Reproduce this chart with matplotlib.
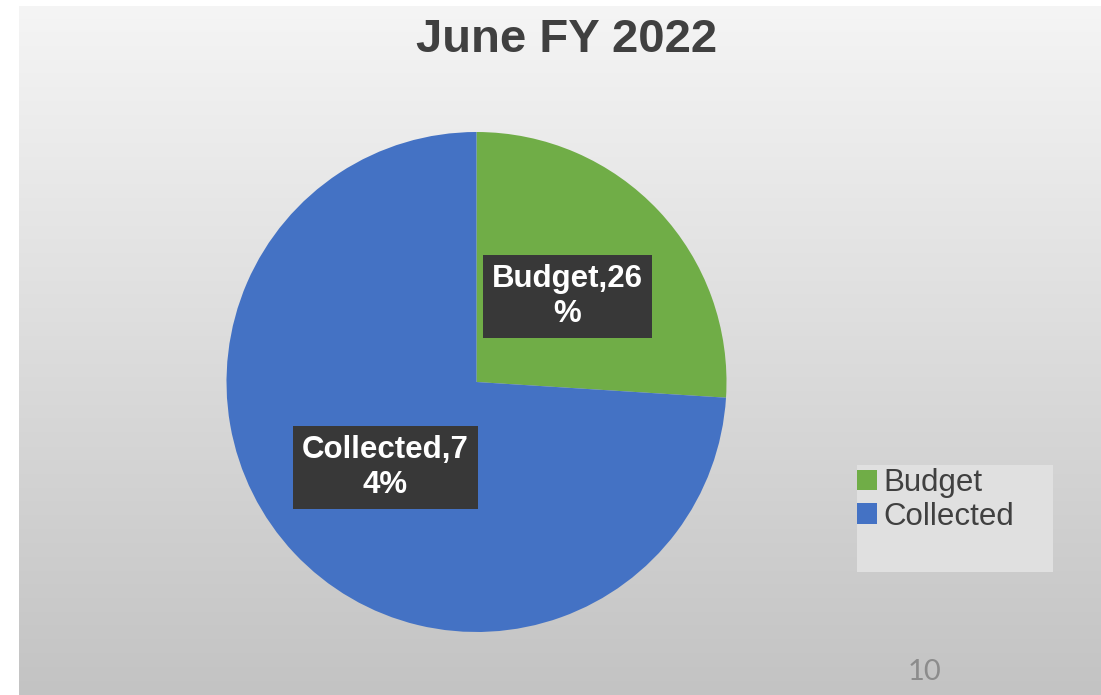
import numpy as np
import matplotlib.pyplot as plt
from matplotlib.patches import Patch, Rectangle

# Revenue split for the month
categories = ["Budget", "Collected"]
shares = [26, 74]
colors = ["#70AD47", "#4472C4"]
wrap_at = [9, 11]          # where the data labels break onto a second line

title = "June FY 2022"
page_no = "10"

W, H = 1101, 695
fig = plt.figure(figsize=(W / 100, H / 100), dpi=100)
fig.patch.set_facecolor("white")

# gray slide-style backdrop, light at the top and darker at the bottom
bg = fig.add_axes([19 / W, 0, 1 - 19 / W, (H - 6) / H])
grad = np.linspace(0, 1, 256)[:, None]
top, bottom = np.array([0.96, 0.96, 0.96]), np.array([0.765, 0.765, 0.765])
img = top + (bottom - top) * grad[:, :, None]
bg.imshow(np.repeat(img, 2, axis=1), aspect="auto", extent=(0, 1, 0, 1), origin="upper")
bg.axis("off")

# main drawing area in pixel units (y pointing up)
ax = fig.add_axes([0, 0, 1, 1])
ax.patch.set_alpha(0)
cx, cy, r = 476.5, H - 382, 250

wedges, _ = ax.pie(shares, colors=colors, startangle=90, counterclock=False,
                   center=(cx, cy), radius=r,
                   wedgeprops=dict(linewidth=0))
ax.set_xlim(0, W)
ax.set_ylim(0, H)
ax.set_aspect("equal")
ax.axis("off")

# data labels halfway out along each wedge's bisector
for w, cat, val, k in zip(wedges, categories, shares, wrap_at):
    mid = np.deg2rad((w.theta1 + w.theta2) / 2)
    x = cx + 0.5 * r * np.cos(mid)
    y = cy + 0.5 * r * np.sin(mid)
    txt = f"{cat},{val}%"
    txt = txt[:k] + "\n" + txt[k:]
    ax.text(x, y, txt, ha="center", va="center", multialignment="center",
            fontsize=22.5, fontweight="bold", color="white",
            family="Liberation Sans", linespacing=1.25,
            bbox=dict(boxstyle="square,pad=0.28", facecolor="#383838",
                      edgecolor="none"))

ax.text(567, H - 52, title, ha="center", va="baseline", fontsize=34,
        fontweight="bold", color="#404040", family="Liberation Sans")

# legend panel
ax.add_patch(Rectangle((857, H - 572), 196, 107, facecolor="#e0e0e0",
                       edgecolor="none", zorder=1))
handles = [Patch(facecolor=c, edgecolor="none") for c in colors]
leg = ax.legend(handles, categories, loc="upper left",
                bbox_to_anchor=(857, H - 468), bbox_transform=ax.transData,
                frameon=False, borderpad=0, borderaxespad=0,
                handlelength=0.65, handleheight=0.65, handletextpad=0.2,
                labelspacing=0.12,
                prop=dict(family="Liberation Sans", size=22.5))
for t in leg.get_texts():
    t.set_color("#404040")

ax.text(925, H - 680, page_no, ha="center", va="baseline", fontsize=21,
        color="#8c8c8c", family="Lato")

fig.savefig("out.png", dpi=100)
